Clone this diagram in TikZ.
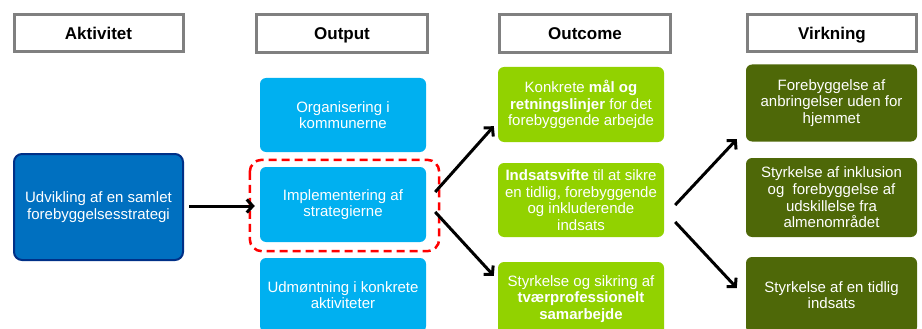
\documentclass[tikz,border=0pt]{standalone}
\usepackage{fontspec}
\setmainfont{Liberation Sans}
\usetikzlibrary{arrows.meta}
\definecolor{hdrgray}{RGB}{128,128,128}
\definecolor{cyanbox}{RGB}{0,176,240}
\definecolor{aktblue}{RGB}{0,112,192}
\definecolor{aktborder}{RGB}{0,48,135}
\definecolor{limegreen}{RGB}{146,210,0}
\definecolor{olivegreen}{RGB}{78,104,8}
\definecolor{dashred}{RGB}{255,0,0}
\begin{document}
\begin{tikzpicture}[x=1pt,y=-1pt,
  hdr/.style={draw=hdrgray, line width=3pt, fill=white, inner sep=0pt,
    minimum width=169pt, minimum height=37pt, text height=12.3pt, text depth=0pt,
    font=\fontsize{17}{20}\selectfont\bfseries},
  cbox/.style={rounded corners=6pt, inner sep=0pt, align=center, text=white,
    minimum width=166pt, minimum height=75pt,
    font=\fontsize{15}{16.7}\selectfont},
  outbox/.style={cbox, fill=cyanbox},
  ocbox/.style={cbox, fill=limegreen},
  vbox/.style={cbox, fill=olivegreen, minimum width=171pt},
  arr/.style={line width=3pt, -{Straight Barb[length=6pt,width=13pt]}}
]
\path[use as bounding box, clip] (0,0) rectangle (922,329);

% headers
\node[hdr] (hA) at (98.5,33) {Aktivitet};
\node[hdr, minimum width=171pt, minimum height=38pt] (hO) at (342,33.5) {Output};
\node[hdr, minimum width=171pt, minimum height=38pt] (hC) at (585,33.5) {Outcome};
\node[hdr] (hV) at (832,33) {Virkning};

% activity
\node[cbox, fill=aktblue, draw=aktborder, line width=2pt, rounded corners=8pt,
  minimum width=169pt, minimum height=106pt] (akt) at (98.5,207)
  {Udvikling af en samlet\\forebyggelsesstrategi};

% output
\node[outbox, minimum height=74pt] (o1) at (343,115) {Organisering i\\kommunerne};
\node[outbox] (impl) at (343,204.5) {Implementering af\\strategierne};
\node[outbox, minimum height=74pt] (o3) at (343,295) {Udmøntning i konkrete\\aktiviteter};

% outcome
\node[ocbox] (c1) at (581,104.5) {Konkrete \textbf{mål og}\\\textbf{retningslinjer} for det\\forebyggende arbejde};
\node[ocbox, minimum height=74pt] (c2) at (581,200) {\textbf{Indsatsvifte} til at sikre\\en tidlig, forebyggende\\og inkluderende\\indsats};
\node[ocbox, minimum height=74pt] (c3) at (581,299) {Styrkelse og sikring af\\\textbf{tværprofessionelt}\\\textbf{samarbejde}};

% virkning
\node[vbox, minimum height=77pt] (v1) at (831.5,103) {Forebyggelse af\\anbringelser uden for\\hjemmet};
\node[vbox, minimum height=79pt] (v2) at (831.5,197.5) {Styrkelse af inklusion\\og~ forebyggelse af\\udskillelse fra\\almenområdet};
\node[vbox, minimum height=76pt] (v3) at (831.5,295) {Styrkelse af en tidlig\\indsats};

% dashed highlight
\draw[dashred, line width=2.5pt, dash pattern=on 8pt off 5pt, rounded corners=12pt]
  ([shift={(-10,-7)}]impl.north west) rectangle ([shift={(13,9)}]impl.south east);

% arrows
\draw[arr] ([shift={(5,-1)}]akt.east) -- ([shift={(-5,1.5)}]impl.west);
\draw[arr] ([shift={(9,-12.5)}]impl.east) -- ([shift={(-4,-16)}]c1.south west);
\draw[arr] ([shift={(9,7.5)}]impl.east) -- ([shift={(-4,14)}]c3.north west);
\draw[arr] ([shift={(11,5)}]c2.east) -- ([shift={(-9,-2.5)}]v1.south west);
\draw[arr] ([shift={(11,22)}]c2.east) -- ([shift={(-9,-7)}]v3.west);
\end{tikzpicture}
\end{document}
